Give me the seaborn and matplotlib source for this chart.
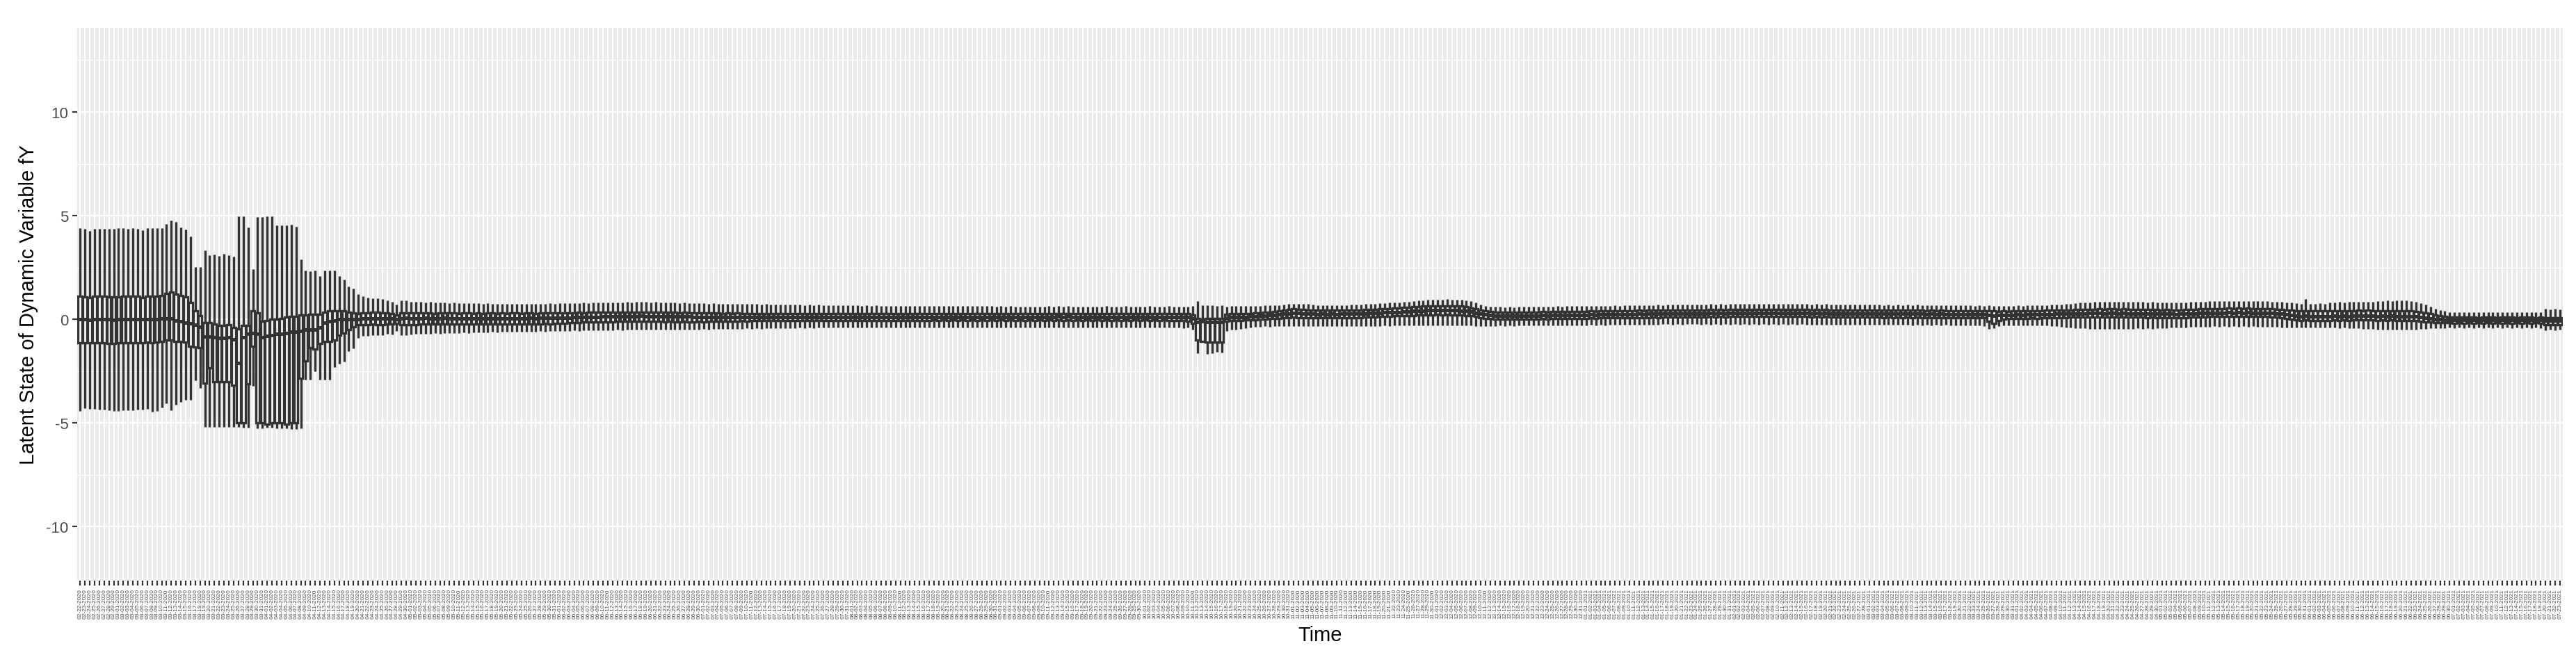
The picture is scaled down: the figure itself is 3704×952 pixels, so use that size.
import pandas as pd
import seaborn as sns
import matplotlib.pyplot as plt
from matplotlib.ticker import FixedLocator

START_DATE = "2020-02-22"

# ---- box statistics (one value per day) ----
# days 0-70 : the wide early period
hi_a = [4.41, 4.37, 4.26, 4.36, 4.38, 4.38, 4.38, 4.38, 4.39, 4.40,
        4.38, 4.39, 4.38, 4.30, 4.39, 4.39, 4.39, 4.41, 4.59, 4.78,
        4.69, 4.42, 4.33, 4.00, 2.51, 2.51, 3.33, 3.10, 3.12, 3.05,
        3.16, 3.08, 3.02, 4.97, 4.97, 4.45, 2.43, 4.95, 4.95, 4.97,
        4.97, 4.52, 4.52, 4.55, 4.58, 4.48, 2.88, 2.35, 2.32, 2.35,
        2.09, 2.35, 2.37, 2.37, 2.09, 1.93, 1.59, 1.50, 1.20, 1.10,
        1.06, 1.02, 1.02, 0.98, 0.90, 0.86, 0.71, 0.90, 0.90, 0.86,
        0.85]
q3_a = [1.11, 1.08, 1.06, 1.10, 1.10, 1.10, 1.09, 1.08, 1.07, 1.12,
        1.13, 1.12, 1.11, 1.06, 1.10, 1.12, 1.13, 1.16, 1.25, 1.31,
        1.23, 1.14, 1.09, 0.81, 0.41, 0.19, -0.17, -0.17, -0.22, -0.28,
        -0.30, -0.25, -0.38, -0.45, -0.30, -0.30, 0.40, 0.30, -0.10, -0.05,
        0.00, 0.00, 0.05, 0.10, 0.15, 0.15, 0.20, 0.22, 0.25, 0.25,
        0.25, 0.35, 0.40, 0.42, 0.42, 0.40, 0.35, 0.30, 0.28, 0.30,
        0.32, 0.33, 0.33, 0.32, 0.30, 0.28, 0.22, 0.30, 0.32, 0.30,
        0.30]
med_a = [0.00, 0.00, -0.02, 0.00, 0.00, 0.01, 0.00, -0.01, 0.00, 0.02,
         0.02, 0.01, 0.02, 0.00, 0.01, 0.02, 0.02, 0.03, 0.05, 0.05,
         -0.05, -0.10, -0.15, -0.20, -0.25, -0.35, -0.82, -0.82, -0.85, -0.90,
         -0.90, -0.88, -0.95, -2.10, -0.85, -0.70, -0.65, -0.70, -0.85, -0.80,
         -0.75, -0.70, -0.70, -0.65, -0.60, -0.60, -0.55, -0.50, -0.50, -0.50,
         -0.40, -0.15, -0.10, -0.05, 0.00, 0.00, 0.00, 0.00, 0.02, 0.03,
         0.04, 0.05, 0.05, 0.05, 0.04, 0.03, 0.02, 0.05, 0.06, 0.05,
         0.05]
q1_a = [-1.13, -1.12, -1.13, -1.12, -1.12, -1.13, -1.15, -1.15, -1.13, -1.12,
        -1.12, -1.12, -1.13, -1.12, -1.10, -1.12, -1.10, -1.05, -1.00, -1.00,
        -1.05, -1.05, -1.10, -1.29, -1.32, -1.35, -3.08, -2.33, -3.00, -3.02,
        -3.02, -3.00, -3.17, -5.00, -5.00, -3.11, -1.30, -5.00, -5.00, -5.05,
        -5.00, -5.00, -5.00, -5.05, -5.00, -5.00, -2.83, -2.00, -1.38, -1.45,
        -1.15, -1.05, -1.05, -1.00, -0.75, -0.65, -0.50, -0.35, -0.27, -0.25,
        -0.25, -0.24, -0.26, -0.25, -0.23, -0.24, -0.20, -0.27, -0.27, -0.26,
        -0.25]
lo_a = [-4.43, -4.29, -4.32, -4.32, -4.34, -4.34, -4.37, -4.43, -4.43, -4.40,
        -4.37, -4.37, -4.34, -4.34, -4.32, -4.46, -4.43, -4.25, -4.06, -4.40,
        -4.10, -3.99, -3.87, -3.87, -2.95, -3.31, -5.18, -5.18, -5.20, -5.20,
        -5.20, -5.20, -5.20, -5.20, -5.22, -5.22, -3.20, -5.25, -5.25, -5.22,
        -5.22, -5.25, -5.25, -5.25, -5.30, -5.30, -5.27, -2.90, -2.90, -2.50,
        -2.90, -2.90, -2.90, -2.30, -2.15, -2.05, -1.55, -1.40, -0.90, -0.80,
        -0.80, -0.76, -0.75, -0.75, -0.70, -0.72, -0.57, -0.75, -0.75, -0.74,
        -0.70]

# days 71-517 : the narrow later period
hi_b = [0.84, 0.82, 0.83, 0.80, 0.82, 0.80, 0.79, 0.80, 0.78, 0.79,
        0.78, 0.77, 0.78, 0.76, 0.77, 0.76, 0.75, 0.76, 0.75, 0.76,
        0.75, 0.74, 0.76, 0.75, 0.74, 0.75, 0.76, 0.77, 0.76, 0.78,
        0.77, 0.78, 0.79, 0.78, 0.80, 0.79, 0.80, 0.81, 0.80, 0.81,
        0.82, 0.81, 0.82, 0.83, 0.82, 0.83, 0.84, 0.83, 0.82, 0.83,
        0.82, 0.81, 0.80, 0.81, 0.79, 0.80, 0.78, 0.79, 0.77, 0.78,
        0.76, 0.77, 0.76, 0.75, 0.76, 0.74, 0.75, 0.74, 0.73, 0.74,
        0.73, 0.72, 0.73, 0.72, 0.71, 0.72, 0.71, 0.70, 0.71, 0.70,
        0.69, 0.70, 0.69, 0.70, 0.68, 0.69, 0.68, 0.69, 0.67, 0.68,
        0.67, 0.68, 0.66, 0.67, 0.66, 0.67, 0.65, 0.66, 0.65, 0.66,
        0.65, 0.66, 0.64, 0.65, 0.64, 0.65, 0.64, 0.63, 0.64, 0.63,
        0.64, 0.63, 0.64, 0.65, 0.64, 0.65, 0.64, 0.63, 0.64, 0.63,
        0.62, 0.63, 0.62, 0.63, 0.62, 0.61, 0.62, 0.61, 0.62, 0.61,
        0.62, 0.63, 0.62, 0.63, 0.62, 0.63, 0.62, 0.61, 0.62, 0.61,
        0.62, 0.61, 0.62, 0.63, 0.62, 0.61, 0.62, 0.63, 0.62, 0.61,
        0.62, 0.62, 0.63, 0.62, 0.61, 0.62, 0.63, 0.62, 0.61, 0.62,
        0.62, 0.64, 0.87, 0.67, 0.67, 0.67, 0.64, 0.67, 0.62, 0.63,
        0.64, 0.63, 0.64, 0.65, 0.66, 0.66, 0.67, 0.67, 0.68, 0.69,
        0.72, 0.74, 0.76, 0.75, 0.74, 0.73, 0.70, 0.69, 0.68, 0.68,
        0.68, 0.69, 0.68, 0.69, 0.70, 0.70, 0.72, 0.74, 0.75, 0.76,
        0.77, 0.78, 0.80, 0.81, 0.82, 0.84, 0.86, 0.88, 0.90, 0.92,
        0.94, 0.95, 0.96, 0.95, 0.97, 0.95, 0.96, 0.94, 0.92, 0.88,
        0.80, 0.72, 0.66, 0.62, 0.60, 0.60, 0.59, 0.60, 0.59, 0.60,
        0.60, 0.61, 0.60, 0.61, 0.62, 0.61, 0.62, 0.63, 0.62, 0.63,
        0.64, 0.63, 0.64, 0.65, 0.64, 0.65, 0.66, 0.65, 0.66, 0.67,
        0.66, 0.67, 0.68, 0.67, 0.68, 0.69, 0.68, 0.69, 0.70, 0.69,
        0.70, 0.71, 0.70, 0.71, 0.72, 0.71, 0.72, 0.71, 0.72, 0.73,
        0.72, 0.73, 0.72, 0.73, 0.74, 0.73, 0.74, 0.73, 0.74, 0.73,
        0.74, 0.73, 0.74, 0.75, 0.74, 0.73, 0.74, 0.73, 0.74, 0.73,
        0.72, 0.73, 0.72, 0.73, 0.72, 0.71, 0.72, 0.71, 0.72, 0.71,
        0.70, 0.71, 0.70, 0.71, 0.70, 0.69, 0.70, 0.69, 0.70, 0.69,
        0.70, 0.69, 0.70, 0.69, 0.68, 0.69, 0.68, 0.69, 0.68, 0.67,
        0.68, 0.67, 0.68, 0.67, 0.66, 0.67, 0.66, 0.67, 0.66, 0.65,
        0.66, 0.65, 0.66, 0.67, 0.66, 0.67, 0.68, 0.67, 0.68, 0.69,
        0.70, 0.71, 0.72, 0.74, 0.76, 0.78, 0.80, 0.81, 0.82, 0.83,
        0.84, 0.83, 0.84, 0.85, 0.84, 0.85, 0.84, 0.83, 0.84, 0.83,
        0.82, 0.83, 0.82, 0.81, 0.82, 0.81, 0.80, 0.81, 0.82, 0.83,
        0.84, 0.85, 0.86, 0.87, 0.88, 0.87, 0.88, 0.89, 0.88, 0.89,
        0.88, 0.89, 0.88, 0.87, 0.88, 0.87, 0.86, 0.85, 0.84, 0.82,
        0.80, 0.78, 0.74, 0.97, 0.76, 0.74, 0.77, 0.76, 0.80, 0.82,
        0.84, 0.82, 0.85, 0.84, 0.86, 0.84, 0.85, 0.86, 0.88, 0.89,
        0.90, 0.89, 0.90, 0.91, 0.90, 0.89, 0.84, 0.78, 0.70, 0.60,
        0.52, 0.45, 0.40, 0.36, 0.34, 0.35, 0.34, 0.35, 0.34, 0.33,
        0.34, 0.35, 0.34, 0.33, 0.34, 0.35, 0.34, 0.33, 0.34, 0.35,
        0.34, 0.33, 0.34, 0.50, 0.48, 0.50, 0.49]
q3_b = [0.30, 0.31, 0.30, 0.29, 0.30, 0.31, 0.30, 0.30, 0.29, 0.30,
        0.30, 0.29, 0.30, 0.29, 0.30, 0.30, 0.29, 0.30, 0.29, 0.30,
        0.30, 0.29, 0.30, 0.30, 0.29, 0.30, 0.31, 0.30, 0.31, 0.31,
        0.32, 0.31, 0.32, 0.33, 0.32, 0.33, 0.34, 0.33, 0.34, 0.35,
        0.34, 0.35, 0.36, 0.35, 0.36, 0.35, 0.36, 0.35, 0.34, 0.35,
        0.34, 0.33, 0.34, 0.33, 0.32, 0.33, 0.32, 0.31, 0.32, 0.31,
        0.30, 0.31, 0.30, 0.29, 0.30, 0.29, 0.30, 0.29, 0.28, 0.29,
        0.28, 0.29, 0.28, 0.29, 0.28, 0.27, 0.28, 0.27, 0.28, 0.27,
        0.28, 0.27, 0.28, 0.27, 0.28, 0.27, 0.28, 0.27, 0.28, 0.27,
        0.27, 0.28, 0.27, 0.26, 0.27, 0.26, 0.27, 0.26, 0.27, 0.26,
        0.27, 0.26, 0.27, 0.26, 0.27, 0.26, 0.27, 0.28, 0.27, 0.28,
        0.28, 0.27, 0.28, 0.27, 0.28, 0.27, 0.28, 0.27, 0.28, 0.27,
        0.28, 0.27, 0.28, 0.27, 0.28, 0.27, 0.28, 0.27, 0.28, 0.27,
        0.28, 0.27, 0.28, 0.29, 0.28, 0.29, 0.28, 0.27, 0.28, 0.27,
        0.28, 0.27, 0.28, 0.27, 0.28, 0.27, 0.28, 0.27, 0.28, 0.27,
        0.28, 0.27, 0.28, 0.27, 0.28, 0.27, 0.28, 0.27, 0.28, 0.27,
        0.27, 0.22, 0.05, 0.02, 0.03, 0.04, 0.03, 0.04, 0.25, 0.27,
        0.28, 0.27, 0.28, 0.29, 0.30, 0.32, 0.34, 0.36, 0.38, 0.40,
        0.44, 0.48, 0.50, 0.49, 0.47, 0.45, 0.44, 0.43, 0.44, 0.43,
        0.44, 0.43, 0.44, 0.45, 0.44, 0.45, 0.46, 0.47, 0.48, 0.49,
        0.50, 0.51, 0.52, 0.53, 0.55, 0.57, 0.58, 0.60, 0.62, 0.63,
        0.64, 0.65, 0.66, 0.65, 0.66, 0.65, 0.64, 0.63, 0.60, 0.56,
        0.50, 0.44, 0.40, 0.37, 0.36, 0.35, 0.34, 0.35, 0.34, 0.35,
        0.35, 0.36, 0.35, 0.36, 0.37, 0.36, 0.37, 0.38, 0.37, 0.38,
        0.38, 0.39, 0.38, 0.39, 0.40, 0.39, 0.40, 0.41, 0.40, 0.41,
        0.41, 0.42, 0.41, 0.42, 0.43, 0.42, 0.43, 0.44, 0.43, 0.44,
        0.44, 0.45, 0.44, 0.45, 0.46, 0.45, 0.46, 0.45, 0.46, 0.47,
        0.46, 0.47, 0.46, 0.47, 0.48, 0.47, 0.48, 0.47, 0.48, 0.47,
        0.48, 0.47, 0.48, 0.49, 0.48, 0.47, 0.48, 0.47, 0.48, 0.47,
        0.46, 0.47, 0.46, 0.47, 0.46, 0.45, 0.46, 0.45, 0.46, 0.45,
        0.44, 0.45, 0.44, 0.45, 0.44, 0.43, 0.44, 0.43, 0.44, 0.43,
        0.44, 0.43, 0.44, 0.43, 0.42, 0.43, 0.42, 0.43, 0.42, 0.41,
        0.42, 0.41, 0.42, 0.41, 0.40, 0.41, 0.40, 0.41, 0.40, 0.39,
        0.40, 0.39, 0.40, 0.41, 0.40, 0.41, 0.42, 0.41, 0.42, 0.43,
        0.43, 0.44, 0.44, 0.45, 0.46, 0.47, 0.48, 0.48, 0.49, 0.49,
        0.50, 0.49, 0.50, 0.50, 0.49, 0.50, 0.49, 0.48, 0.49, 0.48,
        0.47, 0.48, 0.47, 0.46, 0.47, 0.46, 0.45, 0.46, 0.47, 0.48,
        0.49, 0.50, 0.50, 0.51, 0.52, 0.51, 0.52, 0.53, 0.52, 0.53,
        0.52, 0.53, 0.52, 0.51, 0.52, 0.51, 0.50, 0.49, 0.47, 0.45,
        0.43, 0.42, 0.41, 0.42, 0.41, 0.40, 0.41, 0.40, 0.41, 0.42,
        0.41, 0.42, 0.41, 0.42, 0.43, 0.42, 0.43, 0.42, 0.41, 0.42,
        0.41, 0.42, 0.41, 0.40, 0.41, 0.40, 0.39, 0.36, 0.32, 0.27,
        0.22, 0.18, 0.14, 0.12, 0.10, 0.11, 0.10, 0.11, 0.10, 0.09,
        0.10, 0.11, 0.10, 0.09, 0.10, 0.11, 0.10, 0.09, 0.10, 0.11,
        0.10, 0.09, 0.10, 0.09, 0.08, 0.09, 0.08]
med_b = [0.05, 0.06, 0.05, 0.04, 0.05, 0.06, 0.05, 0.05, 0.04, 0.05,
         0.05, 0.04, 0.05, 0.04, 0.05, 0.05, 0.04, 0.05, 0.04, 0.05,
         0.05, 0.04, 0.05, 0.06, 0.05, 0.06, 0.07, 0.06, 0.07, 0.08,
         0.08, 0.09, 0.10, 0.10, 0.11, 0.11, 0.12, 0.12, 0.13, 0.13,
         0.14, 0.14, 0.15, 0.15, 0.15, 0.15, 0.16, 0.15, 0.15, 0.15,
         0.15, 0.14, 0.14, 0.14, 0.13, 0.13, 0.13, 0.12, 0.12, 0.12,
         0.12, 0.12, 0.11, 0.11, 0.11, 0.11, 0.11, 0.11, 0.10, 0.11,
         0.10, 0.11, 0.10, 0.11, 0.10, 0.10, 0.10, 0.10, 0.10, 0.10,
         0.10, 0.11, 0.10, 0.11, 0.10, 0.11, 0.10, 0.11, 0.10, 0.11,
         0.10, 0.11, 0.10, 0.10, 0.11, 0.10, 0.11, 0.10, 0.11, 0.10,
         0.11, 0.10, 0.11, 0.10, 0.11, 0.10, 0.11, 0.12, 0.11, 0.12,
         0.12, 0.11, 0.12, 0.11, 0.12, 0.11, 0.12, 0.11, 0.12, 0.11,
         0.12, 0.11, 0.12, 0.11, 0.12, 0.11, 0.12, 0.11, 0.12, 0.11,
         0.12, 0.11, 0.12, 0.13, 0.12, 0.13, 0.12, 0.11, 0.12, 0.11,
         0.12, 0.11, 0.12, 0.11, 0.12, 0.11, 0.12, 0.11, 0.12, 0.11,
         0.12, 0.11, 0.12, 0.11, 0.12, 0.11, 0.12, 0.11, 0.12, 0.11,
         0.11, 0.05, -0.12, -0.10, -0.12, -0.11, -0.12, -0.11, 0.08, 0.10,
         0.11, 0.11, 0.12, 0.13, 0.14, 0.16, 0.18, 0.20, 0.21, 0.23,
         0.26, 0.29, 0.31, 0.30, 0.28, 0.27, 0.26, 0.25, 0.26, 0.25,
         0.26, 0.25, 0.26, 0.27, 0.26, 0.27, 0.28, 0.29, 0.30, 0.31,
         0.32, 0.33, 0.34, 0.35, 0.36, 0.37, 0.38, 0.40, 0.41, 0.42,
         0.43, 0.44, 0.45, 0.44, 0.45, 0.44, 0.43, 0.42, 0.40, 0.37,
         0.32, 0.27, 0.23, 0.20, 0.19, 0.18, 0.17, 0.18, 0.17, 0.18,
         0.18, 0.19, 0.18, 0.19, 0.20, 0.19, 0.20, 0.21, 0.20, 0.21,
         0.21, 0.22, 0.21, 0.22, 0.23, 0.22, 0.23, 0.24, 0.23, 0.24,
         0.24, 0.25, 0.24, 0.25, 0.26, 0.25, 0.26, 0.27, 0.26, 0.27,
         0.27, 0.28, 0.27, 0.28, 0.29, 0.28, 0.29, 0.28, 0.29, 0.30,
         0.29, 0.30, 0.29, 0.30, 0.31, 0.30, 0.31, 0.30, 0.31, 0.30,
         0.31, 0.30, 0.31, 0.32, 0.31, 0.30, 0.31, 0.30, 0.31, 0.30,
         0.29, 0.30, 0.29, 0.30, 0.29, 0.28, 0.29, 0.28, 0.29, 0.28,
         0.27, 0.28, 0.27, 0.28, 0.27, 0.26, 0.27, 0.26, 0.27, 0.26,
         0.27, 0.26, 0.27, 0.26, 0.25, 0.26, 0.25, 0.26, 0.25, 0.24,
         0.25, 0.24, 0.25, 0.24, 0.23, 0.24, 0.23, 0.20, 0.18, 0.20,
         0.22, 0.21, 0.22, 0.23, 0.22, 0.23, 0.24, 0.23, 0.24, 0.25,
         0.25, 0.26, 0.26, 0.27, 0.28, 0.28, 0.29, 0.29, 0.30, 0.30,
         0.30, 0.29, 0.30, 0.30, 0.29, 0.30, 0.29, 0.28, 0.29, 0.28,
         0.27, 0.28, 0.27, 0.26, 0.27, 0.26, 0.25, 0.26, 0.27, 0.28,
         0.29, 0.30, 0.30, 0.31, 0.32, 0.31, 0.32, 0.33, 0.32, 0.33,
         0.32, 0.33, 0.32, 0.31, 0.32, 0.31, 0.30, 0.28, 0.26, 0.24,
         0.21, 0.18, 0.15, 0.16, 0.15, 0.14, 0.15, 0.14, 0.15, 0.16,
         0.15, 0.16, 0.15, 0.16, 0.17, 0.16, 0.17, 0.16, 0.15, 0.16,
         0.15, 0.16, 0.15, 0.14, 0.15, 0.14, 0.13, 0.11, 0.08, 0.05,
         0.02, 0.00, -0.02, -0.03, -0.03, -0.02, -0.03, -0.02, -0.03, -0.04,
         -0.03, -0.02, -0.03, -0.04, -0.03, -0.02, -0.03, -0.04, -0.03, -0.02,
         -0.03, -0.04, -0.03, -0.05, -0.06, -0.05, -0.06]
q1_b = [-0.22, -0.21, -0.22, -0.23, -0.22, -0.21, -0.22, -0.22, -0.23, -0.22,
        -0.22, -0.23, -0.22, -0.23, -0.22, -0.22, -0.23, -0.22, -0.23, -0.22,
        -0.22, -0.23, -0.22, -0.21, -0.22, -0.21, -0.20, -0.21, -0.19, -0.18,
        -0.18, -0.17, -0.16, -0.15, -0.14, -0.14, -0.13, -0.13, -0.12, -0.11,
        -0.11, -0.10, -0.09, -0.10, -0.09, -0.10, -0.09, -0.10, -0.10, -0.10,
        -0.10, -0.11, -0.10, -0.11, -0.11, -0.10, -0.11, -0.11, -0.10, -0.11,
        -0.10, -0.09, -0.10, -0.09, -0.08, -0.09, -0.08, -0.07, -0.08, -0.07,
        -0.07, -0.06, -0.07, -0.06, -0.07, -0.06, -0.06, -0.05, -0.06, -0.05,
        -0.06, -0.05, -0.06, -0.05, -0.06, -0.05, -0.06, -0.05, -0.06, -0.05,
        -0.05, -0.06, -0.05, -0.06, -0.05, -0.06, -0.05, -0.06, -0.05, -0.06,
        -0.05, -0.06, -0.05, -0.06, -0.05, -0.06, -0.05, -0.04, -0.05, -0.04,
        -0.05, -0.04, -0.05, -0.04, -0.05, -0.04, -0.05, -0.04, -0.05, -0.04,
        -0.05, -0.04, -0.05, -0.04, -0.05, -0.04, -0.05, -0.04, -0.05, -0.04,
        -0.05, -0.04, -0.05, -0.04, -0.05, -0.04, -0.05, -0.04, -0.05, -0.04,
        -0.05, -0.04, -0.05, -0.04, -0.05, -0.04, -0.05, -0.04, -0.05, -0.04,
        -0.05, -0.04, -0.05, -0.04, -0.05, -0.04, -0.05, -0.06, -0.07, -0.06,
        -0.08, -0.20, -1.00, -1.05, -1.10, -1.10, -1.10, -1.10, -0.10, -0.06,
        -0.06, -0.05, -0.04, -0.03, -0.02, 0.00, 0.01, 0.03, 0.04, 0.05,
        0.07, 0.09, 0.10, 0.09, 0.08, 0.07, 0.06, 0.06, 0.07, 0.06,
        0.07, 0.06, 0.07, 0.08, 0.07, 0.08, 0.09, 0.10, 0.11, 0.12,
        0.13, 0.14, 0.15, 0.16, 0.16, 0.17, 0.18, 0.19, 0.20, 0.21,
        0.22, 0.22, 0.23, 0.22, 0.23, 0.22, 0.21, 0.20, 0.19, 0.17,
        0.13, 0.09, 0.05, 0.03, 0.02, 0.01, 0.00, 0.01, 0.00, 0.01,
        0.01, 0.02, 0.01, 0.02, 0.03, 0.02, 0.03, 0.04, 0.03, 0.04,
        0.04, 0.05, 0.04, 0.05, 0.06, 0.05, 0.06, 0.07, 0.06, 0.07,
        0.07, 0.08, 0.07, 0.08, 0.09, 0.08, 0.09, 0.10, 0.09, 0.10,
        0.10, 0.11, 0.10, 0.11, 0.12, 0.11, 0.12, 0.11, 0.12, 0.13,
        0.12, 0.13, 0.12, 0.13, 0.14, 0.13, 0.14, 0.13, 0.14, 0.13,
        0.14, 0.13, 0.14, 0.15, 0.14, 0.13, 0.14, 0.13, 0.14, 0.13,
        0.12, 0.13, 0.12, 0.13, 0.12, 0.11, 0.12, 0.11, 0.12, 0.11,
        0.10, 0.11, 0.10, 0.11, 0.10, 0.09, 0.10, 0.09, 0.10, 0.09,
        0.10, 0.09, 0.10, 0.09, 0.08, 0.09, 0.08, 0.09, 0.08, 0.07,
        0.08, 0.07, 0.08, 0.07, 0.06, 0.07, 0.06, -0.10, -0.20, -0.05,
        0.02, 0.03, 0.04, 0.05, 0.04, 0.05, 0.06, 0.05, 0.06, 0.07,
        0.07, 0.08, 0.08, 0.09, 0.10, 0.10, 0.11, 0.11, 0.12, 0.12,
        0.12, 0.11, 0.12, 0.12, 0.11, 0.12, 0.11, 0.10, 0.11, 0.10,
        0.09, 0.10, 0.09, 0.08, 0.09, 0.08, 0.07, 0.08, 0.09, 0.10,
        0.11, 0.12, 0.12, 0.13, 0.14, 0.13, 0.14, 0.15, 0.14, 0.15,
        0.14, 0.15, 0.14, 0.13, 0.14, 0.13, 0.12, 0.10, 0.08, 0.05,
        0.02, -0.02, -0.05, -0.04, -0.05, -0.06, -0.05, -0.06, -0.05, -0.04,
        -0.05, -0.04, -0.05, -0.04, -0.03, -0.04, -0.03, -0.04, -0.05, -0.04,
        -0.05, -0.04, -0.05, -0.06, -0.05, -0.06, -0.07, -0.09, -0.11, -0.13,
        -0.15, -0.16, -0.17, -0.17, -0.18, -0.17, -0.18, -0.17, -0.18, -0.17,
        -0.18, -0.17, -0.18, -0.17, -0.18, -0.17, -0.18, -0.17, -0.18, -0.17,
        -0.18, -0.17, -0.18, -0.25, -0.26, -0.25, -0.26]
lo_b = [-0.70, -0.68, -0.69, -0.67, -0.68, -0.66, -0.67, -0.65, -0.66, -0.64,
        -0.65, -0.63, -0.64, -0.62, -0.63, -0.61, -0.62, -0.60, -0.61, -0.60,
        -0.60, -0.59, -0.60, -0.58, -0.59, -0.57, -0.58, -0.56, -0.57, -0.55,
        -0.56, -0.55, -0.54, -0.55, -0.54, -0.53, -0.54, -0.53, -0.52, -0.53,
        -0.52, -0.51, -0.52, -0.51, -0.50, -0.51, -0.50, -0.51, -0.50, -0.51,
        -0.50, -0.51, -0.50, -0.49, -0.50, -0.49, -0.48, -0.49, -0.48, -0.47,
        -0.48, -0.47, -0.46, -0.47, -0.46, -0.45, -0.46, -0.45, -0.44, -0.45,
        -0.44, -0.45, -0.44, -0.43, -0.44, -0.43, -0.42, -0.43, -0.42, -0.41,
        -0.42, -0.41, -0.42, -0.41, -0.40, -0.41, -0.40, -0.41, -0.40, -0.39,
        -0.40, -0.39, -0.40, -0.39, -0.40, -0.39, -0.40, -0.39, -0.40, -0.39,
        -0.40, -0.39, -0.40, -0.39, -0.40, -0.39, -0.40, -0.39, -0.40, -0.39,
        -0.40, -0.39, -0.40, -0.39, -0.40, -0.39, -0.40, -0.39, -0.40, -0.39,
        -0.40, -0.39, -0.40, -0.39, -0.40, -0.39, -0.40, -0.39, -0.40, -0.39,
        -0.40, -0.39, -0.40, -0.39, -0.40, -0.39, -0.40, -0.39, -0.40, -0.39,
        -0.40, -0.39, -0.40, -0.39, -0.40, -0.39, -0.40, -0.39, -0.40, -0.39,
        -0.40, -0.39, -0.40, -0.39, -0.40, -0.39, -0.40, -0.41, -0.40, -0.42,
        -0.41, -0.50, -1.62, -1.10, -1.68, -1.62, -1.57, -1.60, -0.56, -0.50,
        -0.48, -0.45, -0.42, -0.38, -0.36, -0.35, -0.34, -0.35, -0.34, -0.33,
        -0.33, -0.32, -0.32, -0.33, -0.34, -0.33, -0.34, -0.33, -0.34, -0.34,
        -0.34, -0.33, -0.34, -0.33, -0.34, -0.33, -0.34, -0.33, -0.32, -0.33,
        -0.32, -0.31, -0.32, -0.31, -0.30, -0.31, -0.30, -0.29, -0.30, -0.29,
        -0.28, -0.29, -0.28, -0.29, -0.28, -0.29, -0.28, -0.29, -0.30, -0.31,
        -0.32, -0.33, -0.32, -0.33, -0.32, -0.31, -0.32, -0.31, -0.32, -0.31,
        -0.31, -0.30, -0.31, -0.30, -0.29, -0.30, -0.29, -0.30, -0.29, -0.28,
        -0.29, -0.28, -0.29, -0.28, -0.27, -0.28, -0.27, -0.28, -0.27, -0.26,
        -0.27, -0.26, -0.27, -0.26, -0.25, -0.26, -0.25, -0.26, -0.25, -0.24,
        -0.24, -0.25, -0.24, -0.25, -0.24, -0.23, -0.24, -0.25, -0.24, -0.25,
        -0.24, -0.25, -0.24, -0.25, -0.24, -0.25, -0.24, -0.25, -0.24, -0.25,
        -0.24, -0.25, -0.24, -0.25, -0.24, -0.25, -0.24, -0.25, -0.24, -0.25,
        -0.25, -0.26, -0.25, -0.26, -0.25, -0.26, -0.25, -0.26, -0.25, -0.26,
        -0.26, -0.27, -0.26, -0.27, -0.26, -0.27, -0.26, -0.27, -0.26, -0.27,
        -0.27, -0.28, -0.27, -0.28, -0.27, -0.28, -0.27, -0.28, -0.27, -0.28,
        -0.28, -0.29, -0.28, -0.29, -0.30, -0.29, -0.32, -0.45, -0.42, -0.33,
        -0.30, -0.29, -0.30, -0.29, -0.30, -0.29, -0.30, -0.29, -0.30, -0.31,
        -0.32, -0.34, -0.36, -0.38, -0.40, -0.42, -0.43, -0.44, -0.45, -0.45,
        -0.46, -0.45, -0.46, -0.45, -0.46, -0.45, -0.46, -0.45, -0.44, -0.45,
        -0.44, -0.45, -0.44, -0.43, -0.42, -0.41, -0.40, -0.39, -0.38, -0.37,
        -0.36, -0.35, -0.36, -0.35, -0.34, -0.35, -0.34, -0.35, -0.34, -0.35,
        -0.34, -0.35, -0.34, -0.35, -0.36, -0.35, -0.36, -0.37, -0.38, -0.38,
        -0.39, -0.39, -0.40, -0.39, -0.40, -0.39, -0.40, -0.39, -0.40, -0.41,
        -0.42, -0.41, -0.43, -0.42, -0.44, -0.45, -0.46, -0.47, -0.48, -0.49,
        -0.50, -0.49, -0.50, -0.51, -0.50, -0.49, -0.48, -0.46, -0.45, -0.44,
        -0.43, -0.42, -0.42, -0.41, -0.42, -0.41, -0.42, -0.41, -0.42, -0.41,
        -0.42, -0.41, -0.42, -0.41, -0.42, -0.41, -0.42, -0.41, -0.42, -0.41,
        -0.42, -0.41, -0.42, -0.52, -0.51, -0.52, -0.51]

Y_MAJOR = [-10, -5, 0, 5, 10]
Y_MINOR = [-12.5, -7.5, -2.5, 2.5, 7.5, 12.5]


def build_long_frame():
    """Turns the per-day box statistics into a long table for seaborn."""
    lo = lo_a + lo_b
    q1 = q1_a + q1_b
    med = med_a + med_b
    q3 = q3_a + q3_b
    hi = hi_a + hi_b

    dates = list(pd.date_range(START_DATE, periods=len(hi)).strftime("%m-%d-%Y"))
    rows = []
    for i, d in enumerate(dates):
        for v in (lo[i], q1[i], med[i], q3[i], hi[i]):
            rows.append({"Time": d, "Value": v})
    return pd.DataFrame(rows), dates


def plot_latent_state(df, dates):
    """Draws one box per day on a ggplot-like grey panel."""
    sns.set_style("darkgrid", {"axes.facecolor": "#EBEBEB", "xtick.bottom": True, "ytick.left": True})
    plt.rcParams["font.family"] = ["Liberation Sans", "DejaVu Sans"]

    fig = plt.figure(figsize=(37.04, 9.53), dpi=100)
    ax = fig.add_axes([0.030, 0.1228, 0.9649, 0.8342])

    sns.boxplot(data=df, x="Time", y="Value", order=dates, whis=(0, 100),
                width=0.8, color="white", saturation=1, linecolor="#333333",
                linewidth=2.4, showfliers=False, showcaps=False,
                medianprops={"linewidth": 3.6}, ax=ax)

    n = len(dates)
    ax.set_xlim(-0.6, n - 0.4)
    ax.set_ylim(-12.6, 14.06)
    ax.set_facecolor("#EBEBEB")
    ax.set_axisbelow(True)

    # grid lines: one per day, major + minor horizontally
    ax.set_xticks(range(n))
    ax.set_xticklabels(dates, rotation=90, fontsize=6, color="#4D4D4D")
    ax.set_yticks(Y_MAJOR)
    ax.set_yticklabels([str(v) for v in Y_MAJOR], fontsize=16, color="#4D4D4D")
    ax.yaxis.set_minor_locator(FixedLocator(Y_MINOR))
    ax.xaxis.grid(True, which="major", color="white", linewidth=1.5)
    ax.yaxis.grid(True, which="major", color="white", linewidth=1.6)
    ax.yaxis.grid(True, which="minor", color="white", linewidth=0.8)

    ax.tick_params(axis="both", which="major", length=5, width=1.6, color="#333333", direction="out")
    ax.tick_params(axis="x", pad=3)
    ax.tick_params(axis="y", pad=4)
    ax.tick_params(axis="y", which="minor", length=0)
    for s in ax.spines.values():
        s.set_visible(False)

    ax.set_xlabel("Time", fontsize=21, color="black", labelpad=7)
    ax.set_ylabel("Latent State of Dynamic Variable fY", fontsize=21, color="black", labelpad=8)

    fig.savefig("out.png", dpi=100)


if __name__ == "__main__":
    df, dates = build_long_frame()
    plot_latent_state(df, dates)
